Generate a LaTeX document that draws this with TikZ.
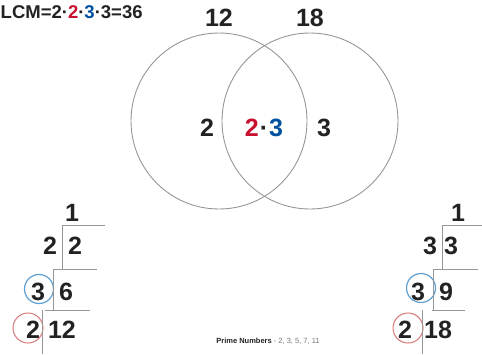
\documentclass[tikz,border=0pt]{standalone}
\usepackage{fontspec}
\setmainfont{Liberation Sans}
\definecolor{numred}{RGB}{200,16,46}
\definecolor{numblue}{RGB}{0,80,160}
\definecolor{ink}{RGB}{34,34,34}
\definecolor{ringred}{RGB}{215,120,120}
\definecolor{ringblue}{RGB}{95,160,210}
\definecolor{linegray}{RGB}{150,150,150}
\definecolor{softgray}{RGB}{120,120,120}
\begin{document}
\begin{tikzpicture}[x=1pt,y=-1pt,
  big/.style={font=\fontsize{25}{25}\selectfont\bfseries, text=ink, inner sep=0pt},
  venn/.style={draw=linegray, line width=0.9pt},
  rule/.style={draw=linegray, line width=1pt},
  ringr/.style={draw=ringred, line width=1pt},
  ringb/.style={draw=ringblue, line width=1.2pt}]
\useasboundingbox (0,0) rectangle (482,354);
% Venn
\node[venn, circle, minimum size=176pt] (cl) at (219,121) {};
\node[venn, circle, minimum size=176pt] (cr) at (310,121) {};
\node[big] (t12) at (219,18) {12};
\node[big] (t18) at (310,18) {18};
\node[big] (vl) at (207,128) {2};
\node[big] (vm) at (264,128) {\textcolor{numred}{2}\kern1pt·\kern1pt\textcolor{numblue}{3}};
\node[big] (vr) at (324,128) {3};
% LCM
\node[anchor=west, inner sep=0pt, text=ink, font=\fontsize{18.5}{18.5}\selectfont\bfseries] (lcm) at (0.5,12)
  {LCM=2·\textcolor{numred}{2}·\textcolor{numblue}{3}·3=36};
% Left ladder
\node[big] (l1) at (72,213) {1};
\node[big] (ld1) at (50,246) {2};
\node[big] (ln1) at (75,246) {2};
\node[big] (ld2) at (38,292) {3};
\node[big] (ln2) at (66,292) {6};
\node[big] (ld3) at (33,330) {2};
\node[big] (ln3) at (62,330) {12};
\node[ringb, circle, minimum size=29pt] (lb) at (39,289) {};
\node[ringr, circle, minimum size=30pt] (lr) at (28,328) {};
\coordinate (la1) at (62,225); \coordinate (la2) at (105,225);
\coordinate (lb1) at (62,269);
\coordinate (lc1) at (53,269); \coordinate (lc2) at (97,269);
\coordinate (ld1c) at (53,310);
\coordinate (le1) at (45,310); \coordinate (le2) at (90,310);
\coordinate (lf1) at (42,310); \coordinate (lf2) at (42,354);
\draw[rule] (la2) -- (la1) -- (lb1);
\draw[rule] (lc2) -- (lc1) -- (ld1c);
\draw[rule] (le1) -- (le2);
\draw[rule] (lf1) -- (lf2);
% Right ladder
\node[big] (r1) at (458,213) {1};
\node[big] (rd1) at (430,246) {3};
\node[big] (rn1) at (451,246) {3};
\node[big] (rd2) at (418,292) {3};
\node[big] (rn2) at (446,292) {9};
\node[big] (rd3) at (405,330) {2};
\node[big] (rn3) at (438,330) {18};
\node[ringb, circle, minimum size=29pt] (rb) at (421,288) {};
\node[ringr, circle, minimum size=30pt] (rr) at (408,328) {};
\coordinate (ra1) at (442,225); \coordinate (ra2) at (482,225);
\coordinate (rb1) at (442,269);
\coordinate (rc1) at (433,269); \coordinate (rc2) at (478,269);
\coordinate (rd1c) at (433,310);
\coordinate (re1) at (432,310); \coordinate (re2) at (465,310);
\coordinate (rf1) at (422,310); \coordinate (rf2) at (422,354);
\draw[rule] (ra2) -- (ra1) -- (rb1);
\draw[rule] (rc2) -- (rc1) -- (rd1c);
\draw[rule] (re1) -- (re2);
\draw[rule] (rf1) -- (rf2);
% Prime numbers
\node[inner sep=0pt, font=\fontsize{7.5}{7.5}\selectfont] (pn) at (268,341)
  {\textbf{\textcolor{ink}{Prime Numbers}} \textcolor{softgray}{- 2, 3, 5, 7, 11}};
\end{tikzpicture}
\end{document}
